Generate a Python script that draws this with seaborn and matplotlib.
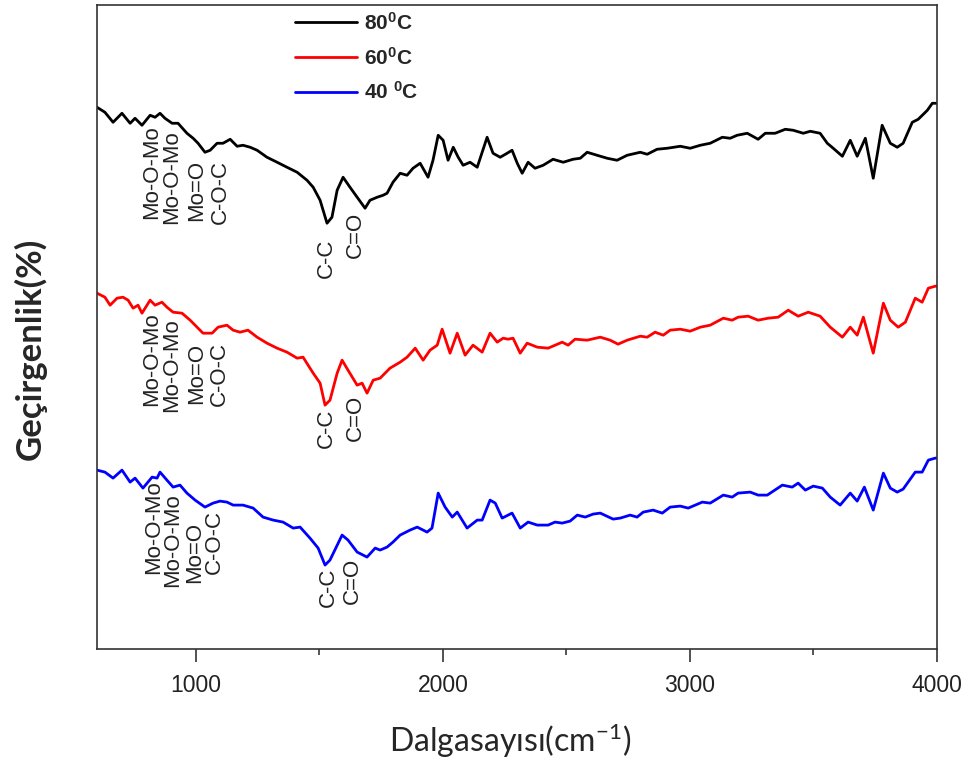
import numpy as np
import pandas as pd
import seaborn as sns
import matplotlib.pyplot as plt

# FTIR spectra: wavenumber (cm-1) and transmittance (a.u.)
wn_80 = [600, 632, 665, 701, 734, 754, 782, 815, 835, 855, 875, 904, 928, 964, 989,
         1009, 1037, 1058, 1086, 1110, 1139, 1167, 1191, 1220, 1248, 1288, 1329, 1369,
         1410, 1450, 1475, 1503, 1531, 1551, 1572, 1596, 1624, 1653, 1685, 1705, 1734,
         1758, 1774, 1798, 1827, 1855, 1879, 1908, 1940, 1960, 1981, 2001, 2021, 2042,
         2062, 2082, 2110, 2139, 2179, 2203, 2232, 2260, 2280, 2301, 2321, 2345, 2373,
         2406, 2446, 2487, 2527, 2556, 2584, 2624, 2665, 2705, 2746, 2799, 2827, 2867,
         2908, 2961, 3001, 3042, 3082, 3131, 3163, 3191, 3232, 3276, 3305, 3345, 3386,
         3418, 3459, 3487, 3527, 3556, 3580, 3617, 3649, 3677, 3710, 3742, 3778, 3811,
         3839, 3863, 3900, 3924, 3961, 3981, 4000]
t_80 = [541, 536, 526, 535, 525, 530, 523, 533, 531, 535, 530, 525, 525, 515, 510,
        505, 496, 498, 505, 505, 509, 502, 503, 501, 498, 491, 486, 481,
        476, 468, 461, 448, 425, 431, 458, 471, 461, 451, 440, 448, 451,
        453, 455, 466, 475, 473, 480, 485, 471, 488, 513, 508, 488, 501,
        491, 483, 486, 481, 511, 495, 491, 495, 498, 485, 475, 486, 480,
        483, 489, 486, 489, 490, 496, 493, 490, 488, 493, 496, 494, 499,
        500, 502, 500, 503, 505, 511, 510, 513, 515, 509, 515, 515, 519,
        518, 515, 517, 515, 505, 500, 492, 508, 492, 510, 470, 523, 505,
        501, 505, 526, 529, 538, 545, 545]

wn_60 = [600, 632, 653, 681, 705, 726, 746, 766, 782, 815, 835, 863, 883, 908, 944,
         977, 1005, 1029, 1066, 1090, 1126, 1151, 1179, 1211, 1248, 1288, 1329, 1369,
         1410, 1434, 1475, 1503, 1523, 1543, 1572, 1592, 1616, 1653, 1673, 1693, 1718,
         1746, 1786, 1827, 1855, 1888, 1920, 1948, 1977, 1997, 2029, 2058, 2090, 2122,
         2159, 2191, 2220, 2244, 2264, 2284, 2313, 2341, 2382, 2426, 2483, 2507, 2535,
         2584, 2637, 2677, 2709, 2746, 2799, 2827, 2859, 2892, 2920, 2961, 3001, 3042,
         3082, 3135, 3171, 3195, 3236, 3276, 3317, 3357, 3398, 3438, 3479, 3527, 3568,
         3617, 3649, 3677, 3702, 3742, 3783, 3811, 3843, 3872, 3912, 3940, 3965, 3993,
         4000]
t_60 = [355, 351, 343, 350, 351, 348, 340, 343, 335, 348, 343, 346, 341, 336, 335,
        328, 321, 315, 315, 321, 323, 318, 316, 318, 311, 305, 300, 296,
        290, 291, 275, 265, 243, 248, 275, 288, 278, 263, 265, 255, 268,
        270, 280, 286, 291, 300, 288, 298, 303, 319, 295, 315, 293, 303,
        296, 315, 306, 310, 309, 310, 295, 305, 301, 300, 306, 303, 309,
        308, 311, 308, 304, 308, 312, 311, 316, 313, 318, 319, 317, 321,
        323, 330, 328, 331, 332, 328, 330, 331, 338, 332, 336, 332, 321,
        311, 321, 313, 331, 295, 345, 328, 321, 326, 350, 346, 360, 362,
        362]

wn_40 = [600, 632, 665, 701, 734, 754, 786, 823, 843, 855, 883, 908, 936, 964, 997,
         1037, 1070, 1098, 1126, 1151, 1191, 1232, 1272, 1313, 1353, 1394, 1422, 1462,
         1495, 1523, 1543, 1592, 1616, 1653, 1693, 1726, 1746, 1774, 1798, 1827, 1867,
         1896, 1936, 1956, 1981, 2009, 2038, 2058, 2098, 2139, 2159, 2191, 2212, 2240,
         2280, 2313, 2345, 2382, 2426, 2454, 2483, 2515, 2544, 2576, 2608, 2637, 2689,
         2718, 2758, 2786, 2811, 2851, 2888, 2920, 2961, 2993, 3050, 3082, 3135, 3171,
         3195, 3244, 3276, 3313, 3374, 3414, 3438, 3467, 3499, 3536, 3568, 3608, 3649,
         3677, 3706, 3742, 3783, 3811, 3839, 3863, 3912, 3940, 3965, 3993, 4000]
t_40 = [178, 176, 170, 178, 166, 170, 160, 171, 170, 176, 168, 161, 163, 155, 148,
        141, 145, 147, 146, 143, 143, 140, 131, 128, 126, 120, 121, 110,
        100, 83, 88, 113, 108, 96, 91, 100, 98, 101, 106, 113, 118,
        121, 116, 120, 155, 141, 131, 136, 120, 128, 128, 148, 145, 130,
        135, 120, 126, 123, 123, 126, 125, 127, 133, 131, 134, 135, 129,
        130, 133, 131, 136, 138, 135, 141, 142, 140, 146, 145, 153, 151,
        155, 156, 153, 153, 163, 161, 165, 158, 162, 160, 151, 143, 155,
        147, 161, 138, 175, 160, 156, 159, 176, 176, 188, 190, 190]

labels = ['80$^{0}$C', '60$^{0}$C', '40 $^{0}$C']
colors = ['black', '#ff0000', '#0000ff']

# band assignments written next to each spectrum
bands = ['Mo-O-Mo', 'Mo-O-Mo', 'Mo=O', 'C-O-C', 'C-C', 'C=O']
band_x = [[823, 900, 1005, 1098, 1527, 1645],
          [823, 900, 1005, 1094, 1527, 1645],
          [831, 908, 995, 1074, 1535, 1632]]
band_top = [[523, 518, 488, 488, 410, 436],
            [336, 330, 305, 306, 240, 253],
            [168, 155, 126, 138, 80, 90]]

df = pd.concat([
    pd.DataFrame({'wn': wn_80, 't': t_80, 'sample': labels[0]}),
    pd.DataFrame({'wn': wn_60, 't': t_60, 'sample': labels[1]}),
    pd.DataFrame({'wn': wn_40, 't': t_40, 'sample': labels[2]}),
])

sns.set_style('ticks')
plt.rcParams['font.family'] = ['Liberation Sans', 'DejaVu Sans']
plt.rcParams['mathtext.default'] = 'regular'

fig = plt.figure(figsize=(9.74, 7.6), dpi=100)
ax = fig.add_axes([0.0996, 0.146, 0.8624, 0.847])

sns.lineplot(data=df, x='wn', y='t', hue='sample', palette=colors,
             estimator=None, sort=False, linewidth=2.0, ax=ax)

for xs, tops in zip(band_x, band_top):
    for name, x, top in zip(bands, xs, tops):
        ax.text(x, top, name, rotation=90, ha='center', va='top',
                fontsize=16, color='#222222')

ax.set_xlim(600, 4000)
ax.set_ylim(-1, 643)
ax.set_yticks([])
ax.set_xticks([1000, 2000, 3000, 4000])
ax.set_xticks([1500, 2500, 3500], minor=True)
ax.tick_params(axis='x', which='major', direction='out', length=9, width=1.1,
               labelsize=16.5, pad=9, colors='#222222')
ax.tick_params(axis='x', which='minor', direction='out', length=4.5, width=1.1)
for s in ax.spines.values():
    s.set_color('#333333')
    s.set_linewidth(1.2)

ax.set_xlabel('Dalgasayısı(cm$^{-1}$)', family='Lato', fontsize=23)
ax.xaxis.set_label_coords(0.4917, -0.112)
ax.xaxis.label.set_va('top')
ax.set_ylabel('Geçirgenlik(%)', family='Lato', fontweight='bold', fontsize=25)
ax.yaxis.set_label_coords(-0.06, 0.467)

ax.legend(loc='upper left', bbox_to_anchor=(0.2357, 0.99), frameon=False,
          borderpad=0, borderaxespad=0, handlelength=3.0, handletextpad=0.3,
          labelspacing=0.62, prop=dict(family='Liberation Sans', weight='bold', size=15))

plt.savefig('out.png', dpi=100)
